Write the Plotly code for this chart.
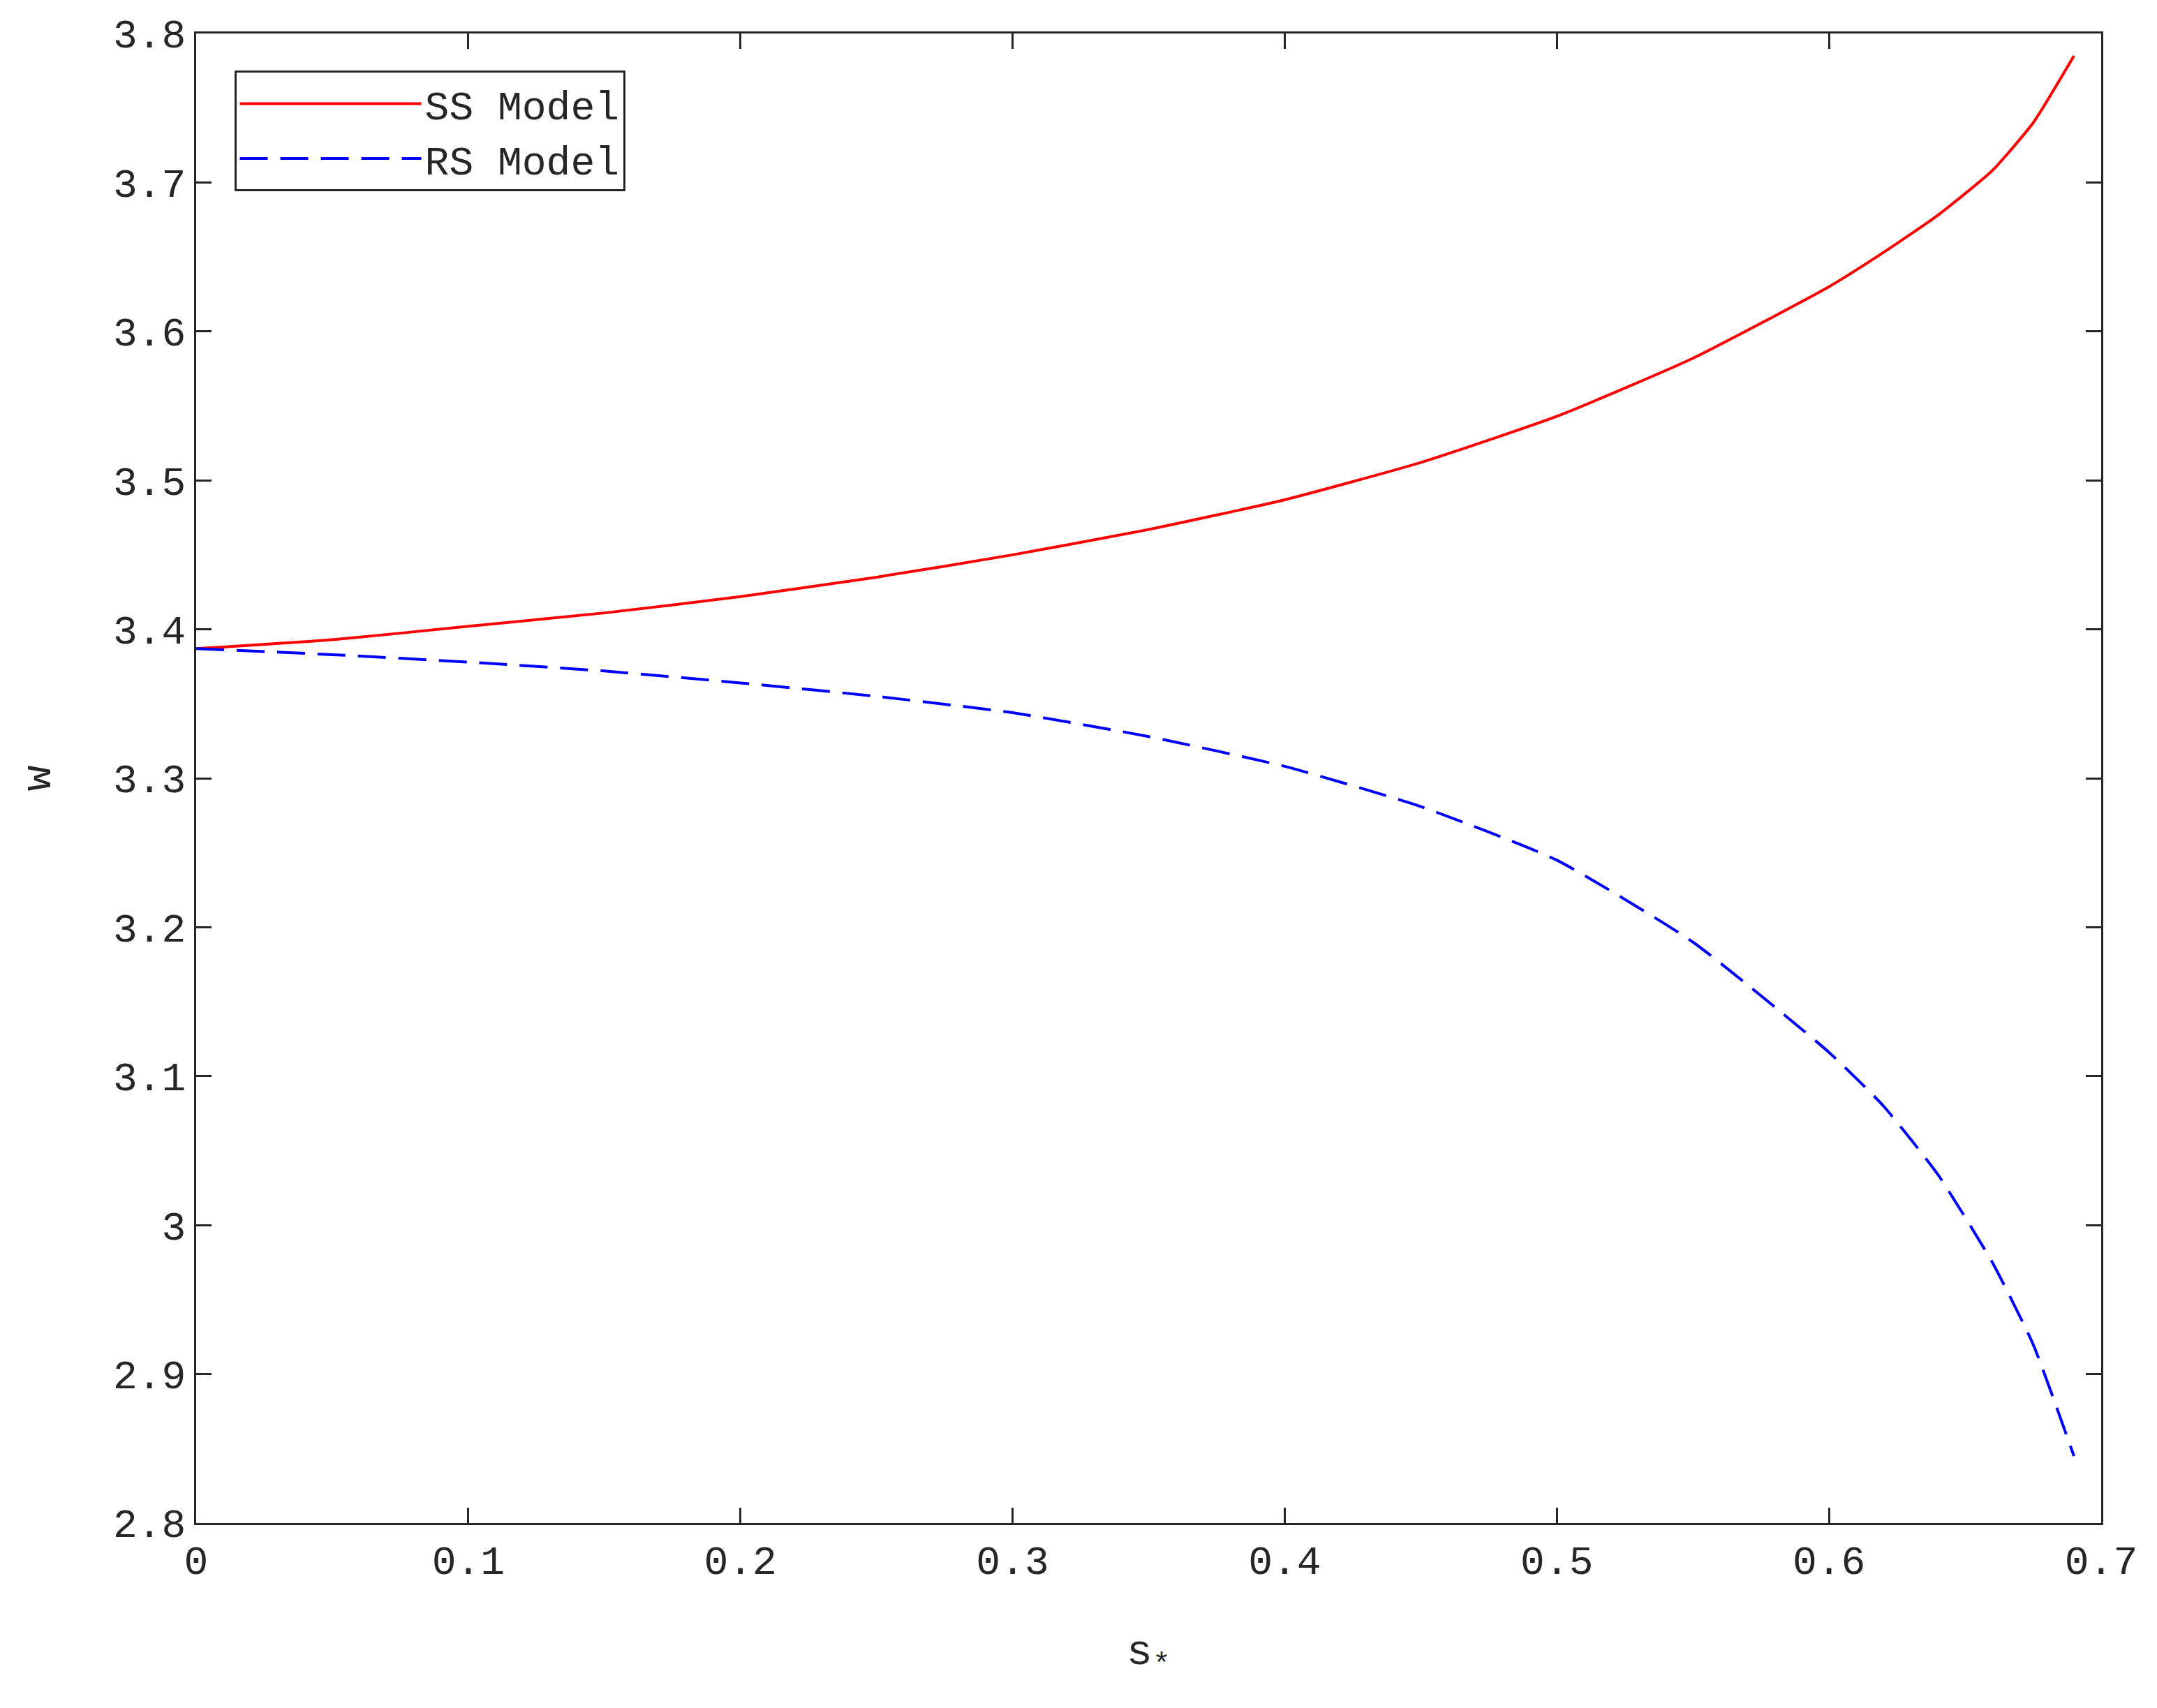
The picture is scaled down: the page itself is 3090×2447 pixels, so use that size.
import plotly.graph_objects as go

s_star = [0, 0.05, 0.1, 0.15, 0.2, 0.25, 0.3, 0.35, 0.4, 0.45, 0.5, 0.55, 0.6, 0.62, 0.64, 0.66, 0.675, 0.69]
w_ss = [3.387, 3.393, 3.402, 3.411, 3.422, 3.435, 3.450, 3.467, 3.487, 3.512, 3.543, 3.582, 3.630, 3.653, 3.678, 3.708, 3.740, 3.785]
w_rs = [3.387, 3.383, 3.378, 3.372, 3.364, 3.355, 3.344, 3.328, 3.308, 3.281, 3.245, 3.190, 3.116, 3.080, 3.034, 2.975, 2.920, 2.845]

x_ticks = [0, 0.1, 0.2, 0.3, 0.4, 0.5, 0.6, 0.7]
x_labels = ["0", "0.1", "0.2", "0.3", "0.4", "0.5", "0.6", "0.7"]
y_ticks = [2.8, 2.9, 3.0, 3.1, 3.2, 3.3, 3.4, 3.5, 3.6, 3.7, 3.8]
y_labels = ["2.8", "2.9", "3", "3.1", "3.2", "3.3", "3.4", "3.5", "3.6", "3.7", "3.8"]

font = "Liberation Mono, Courier New, monospace"

fig = go.Figure()
fig.add_trace(go.Scatter(x=s_star, y=w_ss, mode="lines", name="SS Model",
                         line=dict(color="#ff0000", width=4, shape="spline", smoothing=0.5)))
fig.add_trace(go.Scatter(x=s_star, y=w_rs, mode="lines", name="RS Model",
                         line=dict(color="#0000ff", width=4, dash="40px,18px", shape="spline", smoothing=0.5)))

axis = dict(showgrid=False, zeroline=False, showline=True, linecolor="#262626", linewidth=3,
            mirror="ticks", ticks="inside", ticklen=22, tickwidth=3, tickcolor="#262626",
            tickfont=dict(family=font, size=58, color="#262626"))

fig.update_layout(
    width=3090, height=2447, plot_bgcolor="white", paper_bgcolor="white",
    margin=dict(l=273, r=88, t=40, b=273),
    font=dict(family=font, color="#262626"),
    xaxis=dict(axis, range=[0, 0.7], tickvals=x_ticks, ticktext=x_labels,
               title=dict(text="s<sub>*</sub>", font=dict(size=62), standoff=70)),
    yaxis=dict(axis, range=[2.8, 3.8], tickvals=y_ticks, ticktext=y_labels,
               title=dict(text="w", font=dict(size=62), standoff=70)),
    legend=dict(x=0.02, y=0.975, xanchor="left", yanchor="top", bgcolor="white",
                bordercolor="#262626", borderwidth=3, font=dict(family=font, size=58),
                itemwidth=260, tracegroupgap=20),
)

fig.write_html("out.html")
